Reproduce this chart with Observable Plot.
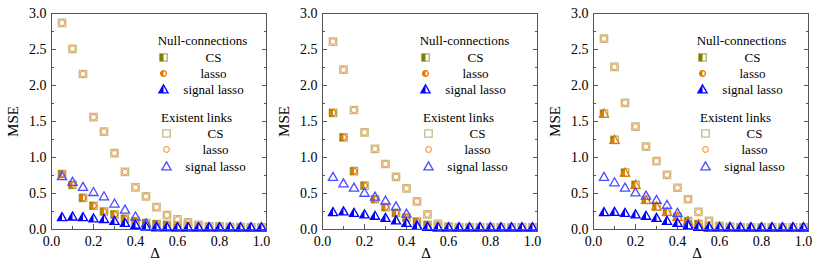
<!DOCTYPE html>
<html><head><meta charset="utf-8">
<script src="https://cdn.jsdelivr.net/npm/d3@7"></script>
<script src="https://cdn.jsdelivr.net/npm/@observablehq/plot@0.6"></script>
<style>
body{margin:0;background:#fff;}
#wrap{position:relative;width:822px;height:264px;overflow:hidden;}
#wrap svg{position:absolute;top:0;}
#wrap svg text{font-family:'Liberation Serif','DejaVu Serif',serif !important;}
</style></head><body><div id="wrap"></div>
<script>
// ---- data ----
const delta = [0.05,0.10,0.15,0.20,0.25,0.30,0.35,0.40,0.45,0.50,0.55,0.60,0.65,0.70,0.75,0.80,0.85,0.90,0.95,1.00];
const xTicks = [0,0.2,0.4,0.6,0.8,1.0];
const xMinorTicks = [0.1,0.3,0.5,0.7,0.9];
const yTicks = [0,0.5,1.0,1.5,2.0,2.5,3.0];
const yMinorTicks = [0.25,0.75,1.25,1.75,2.25,2.75];
const methods = ["CS","lasso","signal lasso"];
const nullTitle = "Null-connections";
const existTitle = "Existent links";

// panel 1
const p1ExistCS     = [2.87,2.51,2.16,1.56,1.36,1.06,0.80,0.585,0.46,0.31,0.20,0.14,0.10,0.065,0.045,0.04,0.035,0.03,0.03,0.03];
const p1ExistLasso  = [2.87,2.51,2.16,1.56,1.36,1.06,0.80,0.585,0.46,0.31,0.20,0.14,0.10,0.065,0.045,0.04,0.035,0.03,0.03,0.03];
const p1ExistSignal = [0.74,0.66,0.59,0.52,0.46,0.36,0.275,0.18,0.085,0.045,0.035,0.03,0.03,0.03,0.03,0.03,0.03,0.03,0.03,0.03];
const p1NullCS      = [0.77,0.62,0.44,0.33,0.25,0.21,0.15,0.115,0.09,0.075,0.065,0.055,0.05,0.045,0.04,0.04,0.035,0.035,0.03,0.03];
const p1NullLasso   = [0.77,0.62,0.44,0.33,0.25,0.21,0.15,0.115,0.09,0.075,0.065,0.055,0.05,0.045,0.04,0.04,0.035,0.035,0.03,0.03];
const p1NullSignal  = [0.17,0.18,0.17,0.155,0.145,0.12,0.09,0.065,0.04,0.03,0.03,0.03,0.03,0.03,0.03,0.03,0.03,0.03,0.03,0.03];
// panel 2
const p2ExistCS     = [2.61,2.22,1.66,1.35,1.12,0.91,0.73,0.57,0.39,0.21,0.08,0.04,0.03,0.03,0.03,0.03,0.03,0.03,0.03,0.03];
const p2ExistLasso  = [2.61,2.22,1.66,1.35,1.12,0.91,0.73,0.57,0.39,0.21,0.08,0.04,0.03,0.03,0.03,0.03,0.03,0.03,0.03,0.03];
const p2ExistSignal = [0.73,0.64,0.58,0.51,0.455,0.40,0.32,0.22,0.065,0.04,0.03,0.03,0.03,0.03,0.03,0.03,0.03,0.03,0.03,0.03];
const p2NullCS      = [1.62,1.28,0.81,0.61,0.42,0.31,0.23,0.165,0.11,0.065,0.04,0.035,0.03,0.03,0.03,0.03,0.03,0.03,0.03,0.03];
const p2NullLasso   = [1.62,1.28,0.81,0.61,0.42,0.31,0.23,0.165,0.11,0.065,0.04,0.035,0.03,0.03,0.03,0.03,0.03,0.03,0.03,0.03];
const p2NullSignal  = [0.24,0.25,0.23,0.21,0.19,0.16,0.125,0.09,0.05,0.035,0.03,0.03,0.03,0.03,0.03,0.03,0.03,0.03,0.03,0.03];
// panel 3
const p3ExistCS     = [2.65,2.26,1.76,1.43,1.15,0.95,0.76,0.58,0.42,0.245,0.12,0.05,0.035,0.03,0.03,0.03,0.03,0.03,0.03,0.03];
const p3ExistLasso  = [2.65,2.26,1.76,1.43,1.15,0.95,0.76,0.58,0.42,0.245,0.12,0.05,0.035,0.03,0.03,0.03,0.03,0.03,0.03,0.03];
const p3ExistSignal = [0.73,0.655,0.58,0.515,0.47,0.41,0.34,0.23,0.08,0.04,0.03,0.03,0.03,0.03,0.03,0.03,0.03,0.03,0.03,0.03];
const p3NullCS      = [1.61,1.245,0.79,0.62,0.41,0.32,0.245,0.175,0.115,0.075,0.05,0.04,0.035,0.03,0.03,0.03,0.03,0.03,0.03,0.03];
const p3NullLasso   = [1.61,1.245,0.79,0.62,0.41,0.32,0.245,0.175,0.115,0.075,0.05,0.04,0.035,0.03,0.03,0.03,0.03,0.03,0.03,0.03];
const p3NullSignal  = [0.24,0.245,0.23,0.21,0.19,0.16,0.12,0.09,0.055,0.035,0.03,0.03,0.03,0.03,0.03,0.03,0.03,0.03,0.03,0.03];

const panels = [
  {existCS:p1ExistCS, existLasso:p1ExistLasso, existSignal:p1ExistSignal, nullCS:p1NullCS, nullLasso:p1NullLasso, nullSignal:p1NullSignal, nullLassoShape:"circle", left:0, legendShift:0},
  {existCS:p2ExistCS, existLasso:p2ExistLasso, existSignal:p2ExistSignal, nullCS:p2NullCS, nullLasso:p2NullLasso, nullSignal:p2NullSignal, nullLassoShape:"circle", left:271, legendShift:-9},
  {existCS:p3ExistCS, existLasso:p3ExistLasso, existSignal:p3ExistSignal, nullCS:p3NullCS, nullLasso:p3NullLasso, nullSignal:p3NullSignal, nullLassoShape:"tri", left:542, legendShift:-3}
];

// ---- style ----
const FONT = "'Liberation Serif', 'DejaVu Serif', serif";
const C = {
  olive:"#7f7f00", oliveEdge:"#b3ad62", khaki:"#c4bc88",
  orange:"#e27b00", orangeLight:"#f3a65a",
  blue:"#0000ff", blueLight:"#4b4bff", frame:"#555"
};

const sym = {
  square:{draw(c,s){const h=Math.sqrt(s/Math.PI); c.rect(-h,-h,2*h,2*h);}},
  squareL:{draw(c,s){const h=Math.sqrt(s/Math.PI); c.rect(-h,-h,h,2*h);}},
  circle:{draw(c,s){const r=Math.sqrt(s/Math.PI); c.moveTo(r,0); c.arc(0,0,r,0,2*Math.PI);}},
  circleL:{draw(c,s){const r=Math.sqrt(s/Math.PI); c.moveTo(0,-r); c.arc(0,0,r,-Math.PI/2,Math.PI/2,true); c.closePath();}},
  tri:{draw(c,s){const r=Math.sqrt(s/Math.PI); c.moveTo(0,-r); c.lineTo(r,0.75*r); c.lineTo(-r,0.75*r); c.closePath();}},
  triL:{draw(c,s){const r=Math.sqrt(s/Math.PI); c.moveTo(0,-r); c.lineTo(0,0.75*r); c.lineTo(-r,0.75*r); c.closePath();}}
};
const R = {square:3.7, circle:2.9, tri:4.6};

const rows = arr => delta.map((d,i)=>({x:d, y:arr[i]}));

function openDots(data, shape, stroke, extra={}) {
  return Plot.dot(data, {x:"x", y:"y", symbol:sym[shape], r:R[shape], fill:"none", stroke, strokeWidth:1.3, ...extra});
}
function halfDots(data, shape, fill, stroke, extra={}) {
  return [
    Plot.dot(data, {x:"x", y:"y", symbol:sym[shape], r:R[shape], fill:"white", stroke, strokeWidth:1.3, ...extra}),
    Plot.dot(data, {x:"x", y:"y", symbol:sym[shape+"L"], r:R[shape], fill, stroke:"none", ...extra})
  ];
}

function legendMarks(shift) {
  const L = {frameAnchor:"top-left"};
  const t = (s, dx, dy) => Plot.text([s], {...L, dx:dx+shift, dy, textAnchor:"middle", lineAnchor:"middle", fontSize:13, fontFamily:FONT, fill:"black"});
  const nullY = [44,60,76], exY = [120,136,153];
  const nullShapes = ["square","circle","tri"];
  const nullFill = [C.olive, C.orange, C.blue];
  const nullStroke = [C.oliveEdge, C.orange, C.blue];
  const exStroke = [C.khaki, C.orangeLight, C.blueLight];
  const marks = [t(nullTitle,151,27), t(existTitle,145,104)];
  methods.forEach((m,i)=>{
    const sh = nullShapes[i];
    marks.push(Plot.dot([m], {...L, dx:112+shift, dy:nullY[i], symbol:sym[sh], r:R[sh], fill:"white", stroke:nullStroke[i], strokeWidth:1.3}));
    marks.push(Plot.dot([m], {...L, dx:112+shift, dy:nullY[i], symbol:sym[sh+"L"], r:R[sh], fill:nullFill[i], stroke:"none"}));
    marks.push(t(m,162,nullY[i]));
    marks.push(Plot.dot([m], {...L, dx:115+shift, dy:exY[i], symbol:sym[sh], r:R[sh], fill:"none", stroke:exStroke[i], strokeWidth:1.3}));
    marks.push(t(m,164,exY[i]));
  });
  return marks;
}

const wrap = document.getElementById("wrap");
panels.forEach(p=>{
  const chart = Plot.plot({
    width:274, height:264,
    marginLeft:51, marginRight:8, marginTop:13, marginBottom:35,
    style:{fontFamily:FONT, background:"white", color:"black"},
    x:{domain:[0,1.024]},
    y:{domain:[0,3]},
    marks:[
      // axes
      Plot.axisX(xTicks, {anchor:"bottom", tickSize:-5, text:null, stroke:C.frame, label:null}),
      Plot.axisX(xMinorTicks, {anchor:"bottom", tickSize:-3, text:null, stroke:C.frame, label:null}),
      Plot.axisX(xTicks, {anchor:"bottom", tickSize:0, tickPadding:7, tickFormat:d=>d.toFixed(1), fontSize:14, fill:"black", label:null}),
      Plot.axisY(yTicks, {anchor:"left", tickSize:-5, text:null, stroke:C.frame, label:null}),
      Plot.axisY(yMinorTicks, {anchor:"left", tickSize:-3, text:null, stroke:C.frame, label:null}),
      Plot.axisY(yTicks, {anchor:"right", tickSize:-5, text:null, stroke:C.frame, label:null}),
      Plot.axisY(yMinorTicks, {anchor:"right", tickSize:-3, text:null, stroke:C.frame, label:null}),
      Plot.axisY(yTicks, {anchor:"left", tickSize:0, tickPadding:5, tickFormat:d=>d.toFixed(1), fontSize:14, fill:"black", label:null}),
      Plot.text(["MSE"], {frameAnchor:"left", dx:-38, rotate:-90, fontSize:15, fill:"black", textAnchor:"middle", lineAnchor:"middle"}),
      Plot.text(["Δ"], {frameAnchor:"bottom", dx:-4, dy:24, fontSize:15, fill:"black", textAnchor:"middle", lineAnchor:"middle"}),
      // data
      ...halfDots(rows(p.nullCS), "square", C.olive, C.oliveEdge),
      ...halfDots(rows(p.nullLasso), p.nullLassoShape, C.orange, C.orange),
      openDots(rows(p.existCS), "square", C.khaki),
      openDots(rows(p.existLasso), "circle", C.orangeLight),
      openDots(rows(p.existSignal), "tri", C.blueLight),
      ...halfDots(rows(p.nullSignal), "tri", C.blue, C.blue),
      Plot.frame({stroke:C.frame, strokeWidth:1}),
      ...legendMarks(p.legendShift)
    ]
  });
  chart.style.left = p.left + "px";
  wrap.appendChild(chart);
});
</script>
</body></html>
